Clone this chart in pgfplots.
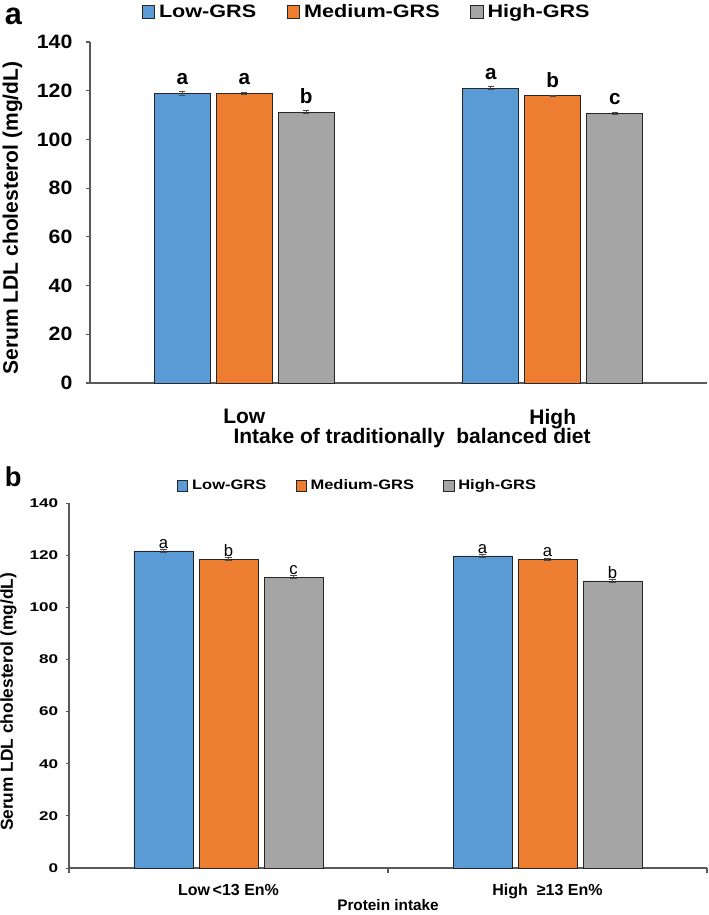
\documentclass[border=0pt]{standalone}
\usepackage{pgfplots}
\pgfplotsset{compat=1.18}
\usepackage{pgfplotstable}
\usepackage{fontspec}
\setmainfont{Liberation Sans}
\newfontfamily\stA[FakeStretch=1.2]{Liberation Sans}
\newfontfamily\stB[FakeStretch=1.35]{Liberation Sans}
\newfontfamily\stC[FakeStretch=1.1]{Liberation Sans}
\definecolor{cblue}{HTML}{5B9BD5}
\definecolor{corange}{HTML}{ED7D31}
\definecolor{cgray}{HTML}{A5A5A5}
\definecolor{axgray}{HTML}{595959}

\pgfplotsset{
  lgA/.style={legend image code/.code={\draw[##1,draw=black!85,line width=0.7pt] (0pt,-4.6pt) rectangle (9.2pt,4.6pt);}},
  lgB/.style={legend image code/.code={\draw[##1,draw=black!85,line width=0.6pt] (0pt,-3.8pt) rectangle (7.6pt,3.8pt);}},
  errA/.style={error bars/.cd, y dir=both, y explicit,
     error bar style={line width=0.7pt, draw=black!70},
     error mark options={rotate=90, mark size=2.4pt, line width=0.7pt, draw=black!70}},
}

% panel a
\pgfplotstableread{
x y e lab
0 118.9 0.7 a
1 121.1 0.7 a
}\aLow
\pgfplotstableread{
x y e lab
0 118.9 0.5 a
1 117.9 0.3 b
}\aMed
\pgfplotstableread{
x y e lab
0 111.1 0.6 b
1 110.7 0.4 c
}\aHigh
% panel b
\pgfplotstableread{
x y e lab
0 121.6 0.5 a
1 119.7 0.5 a
}\bLow
\pgfplotstableread{
x y e lab
0 118.5 0.5 b
1 118.5 0.4 a
}\bMed
\pgfplotstableread{
x y e lab
0 111.6 0.6 c
1 110.1 0.5 b
}\bHigh

\begin{document}
\begin{tikzpicture}
\useasboundingbox (0,0) rectangle (531.75pt,-686.25pt);

\node[anchor=base west, inner sep=0pt, font=\bfseries\fontsize{23}{24}\selectfont] at (3.5pt,-18pt) {a};
\node[anchor=base west, inner sep=0pt, font=\bfseries\fontsize{20.5}{21}\selectfont] at (3.5pt,-364.5pt) {b};

% ---------------- panel a
\begin{axis}[
  at={(67.5pt,-287.25pt)}, anchor=south west,
  width=462.75pt, height=255.75pt, scale only axis,
  ybar=4.5pt, bar width=42pt,
  xmin=-0.5, xmax=1.5, ymin=0, ymax=140,
  xtick={0,1}, xticklabels={Low,High},
  ytick={0,20,...,140},
  axis x line*=bottom, axis y line*=left,
  axis line style={-, draw=axgray, line width=1.1pt},
  tick align=outside, major tick length=3pt,
  major x tick style={draw=none},
  ytick style={draw=axgray, line width=0.8pt},
  /pgf/number format/assume math mode=true,
  yticklabel style={font=\stC\bfseries\fontsize{14.5}{15}\selectfont, anchor=east, inner sep=0pt, xshift=-10pt},
  xticklabel style={font=\bfseries\fontsize{15.75}{16}\selectfont, anchor=north, inner sep=0pt, yshift=-16.5pt},
  ylabel={Serum LDL cholesterol (mg/dL)},
  ylabel style={font=\bfseries\fontsize{15.75}{16}\selectfont, at={(axis description cs:-0.1256,0.484)}, anchor=center},
  xlabel={Intake of traditionally\ \ balanced diet},
  xlabel style={font=\bfseries\fontsize{15.75}{16}\selectfont, at={(axis description cs:0.522,0)}, anchor=center, yshift=-41.5pt},
  clip=false,
  point meta=explicit symbolic,
  nodes near coords,
  nodes near coords style={font=\bfseries\fontsize{15.5}{16}\selectfont, anchor=south, inner sep=0pt, yshift=6pt},
  legend style={at={(axis description cs:0.449,1.088)}, anchor=center, draw=none, fill=none,
     legend columns=3, font=\stA\bfseries\fontsize{13.5}{14}\selectfont,
     /tikz/every even column/.append style={column sep=21pt},
     /tikz/every odd column/.append style={column sep=1pt}},
]
\addplot[fill=cblue, draw=black!85, line width=0.7pt, lgA, errA] table[x=x, y=y, y error=e, meta=lab]{\aLow};
\addplot[fill=corange, draw=black!85, line width=0.7pt, lgA, errA] table[x=x, y=y, y error=e, meta=lab]{\aMed};
\addplot[fill=cgray, draw=black!85, line width=0.7pt, lgA, errA] table[x=x, y=y, y error=e, meta=lab]{\aHigh};
\legend{Low-GRS, Medium-GRS, High-GRS}
\end{axis}

% ---------------- panel b
\begin{axis}[
  at={(51.75pt,-651pt)}, anchor=south west,
  width=478.5pt, height=273.75pt, scale only axis,
  ybar=4.5pt, bar width=44.25pt,
  xmin=-0.5, xmax=1.5, ymin=0, ymax=140,
  xtick={0,1}, xticklabels={Low\,<13 En\%, High\ \ ≥13 En\%},
  minor xtick={-0.5,0.5,1.5},
  ytick={0,20,...,140},
  axis x line*=bottom, axis y line*=left,
  axis line style={-, draw=axgray, line width=0.9pt},
  tick align=outside, major tick length=2.5pt, minor tick length=3.5pt,
  major x tick style={draw=none},
  minor x tick style={draw=axgray, line width=0.8pt},
  ytick style={draw=axgray, line width=0.7pt},
  /pgf/number format/assume math mode=true,
  yticklabel style={font=\stB\bfseries\fontsize{9.5}{10}\selectfont, anchor=east, inner sep=0pt, xshift=-5.5pt},
  xticklabel style={font=\bfseries\fontsize{12}{13}\selectfont, anchor=north, inner sep=0pt, yshift=-9.5pt},
  ylabel={Serum LDL cholesterol (mg/dL)},
  ylabel style={font=\bfseries\fontsize{13}{14}\selectfont, at={(axis description cs:-0.0948,0.455)}, anchor=center},
  xlabel={Protein intake},
  xlabel style={font=\bfseries\fontsize{11.5}{12}\selectfont, at={(axis description cs:0.5,0)}, anchor=center, yshift=-27.75pt},
  clip=false,
  point meta=explicit symbolic,
  nodes near coords,
  nodes near coords style={font=\fontsize{12.5}{13}\selectfont, anchor=south, inner sep=0pt, yshift=1.5pt},
  legend style={at={(axis description cs:0.453,1.047)}, anchor=center, draw=none, fill=none,
     legend columns=3, font=\stA\bfseries\fontsize{10.3}{11}\selectfont,
     /tikz/every even column/.append style={column sep=20pt},
     /tikz/every odd column/.append style={column sep=1pt}},
]
\addplot[fill=cblue, draw=black!85, line width=0.6pt, lgB, errA] table[x=x, y=y, y error=e, meta=lab]{\bLow};
\addplot[fill=corange, draw=black!85, line width=0.6pt, lgB, errA] table[x=x, y=y, y error=e, meta=lab]{\bMed};
\addplot[fill=cgray, draw=black!85, line width=0.6pt, lgB, errA] table[x=x, y=y, y error=e, meta=lab]{\bHigh};
\legend{Low-GRS, Medium-GRS, High-GRS}
\end{axis}
\end{tikzpicture}
\end{document}
